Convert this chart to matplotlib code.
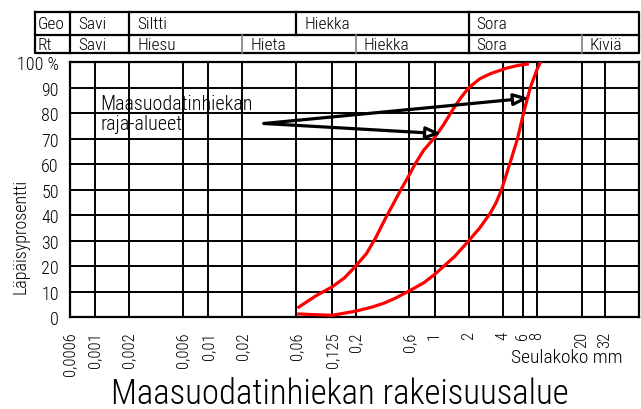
import matplotlib.pyplot as plt
import matplotlib.transforms as mtransforms

plt.rcParams['font.family'] = ['Roboto Condensed', 'DejaVu Sans']
plt.rcParams['font.weight'] = 'light'
plt.rcParams['axes.labelweight'] = 'light'

# seulakoot (mm) ja niiden nimet
sieve_sizes = [0.0006, 0.001, 0.002, 0.006, 0.01, 0.02, 0.06, 0.125, 0.2,
               0.6, 1, 2, 4, 6, 8, 20, 32]
sieve_labels = ['0,0006', '0,001', '0,002', '0,006', '0,01', '0,02', '0,06',
                '0,125', '0,2', '0,6', '1', '2', '4', '6', '8', '20', '32']
pass_ticks = [0, 10, 20, 30, 40, 50, 60, 70, 80, 90, 100]
pass_labels = ['0', '10', '20', '30', '40', '50', '60', '70', '80', '90', '100 %']

# raja-alueet (hieno ja karkea raja)
fine_x = [0.063, 0.09, 0.125, 0.16, 0.2, 0.25, 0.3, 0.37, 0.45, 0.51, 0.6,
          0.67, 0.8, 1.0, 1.2, 1.45, 1.7, 2.0, 2.5, 3.1, 4.3, 5.5, 6.6]
fine_y = [4, 8.5, 12, 15.5, 20, 25, 31, 39, 46, 50.5, 56,
          60, 65.5, 70.5, 75.5, 81.5, 86, 90, 93.5, 95.5, 97.7, 98.8, 99.3]
coarse_x = [0.063, 0.09, 0.125, 0.2, 0.28, 0.36, 0.45, 0.6, 0.8, 1.0, 1.5,
            2.0, 2.5, 3.1, 3.5, 3.9, 4.6, 5.4, 6.1, 7.0, 8.0, 8.6]
coarse_y = [1.3, 1.0, 0.8, 2.4, 4, 5.6, 7.5, 10.4, 13.5, 16.8, 23.8,
            30, 35, 40.8, 45, 50, 60, 70, 80, 90, 97, 100]

# otsikkotaulukko
geo_edges = [0.0006, 0.002, 0.06, 2]
geo_names = ['Savi', 'Siltti', 'Hiekka', 'Sora']
rt_edges = [0.0006, 0.002, 0.02, 0.2, 2, 20]
rt_names = ['Savi', 'Hiesu', 'Hieta', 'Hiekka', 'Sora', 'Kiviä']

# nuolet
arrow_tail = (0.031, 76)
arrow_heads_x = [6.85, 1.15]
arrow_heads_y = [86, 72]

fig = plt.figure(figsize=(6.41, 4.10), dpi=100)
ax = fig.add_axes([70 / 641, 91.7 / 410, 569 / 641, 255 / 410])
ax.set_xscale('log')
ax.set_xlim(0.0006, 64)
ax.set_ylim(0, 100)

ax.set_xticks(sieve_sizes)
ax.set_xticklabels(sieve_labels, rotation=90, va='top', ha='center')
ax.xaxis.set_minor_locator(plt.NullLocator())
ax.set_yticks(pass_ticks)
ax.set_yticklabels(pass_labels)
ax.tick_params(axis='both', length=0)
ax.tick_params(axis='x', pad=10, labelsize=12)
ax.tick_params(axis='y', pad=8, labelsize=13)
ax.grid(True, color='black', lw=1.4)
for s in ax.spines.values():
    s.set_linewidth(1.6)

ax.plot(fine_x, fine_y, color='red', lw=2.3, zorder=3)
ax.plot(coarse_x, coarse_y, color='red', lw=2.3, zorder=3)

ax.text(0.00112, 83.8, 'Maasuodatinhiekan', fontsize=14.5, va='center')
ax.text(0.00112, 75.9, 'raja-alueet', fontsize=14.5, va='center')
for hx, hy in zip(arrow_heads_x, arrow_heads_y):
    ax.annotate('', xy=(hx, hy), xytext=arrow_tail,
                arrowprops=dict(arrowstyle='-|>,head_length=0.9,head_width=0.35',
                                lw=2.3, ec='black', fc='white',
                                shrinkA=0, shrinkB=0), zorder=4)

ax.set_ylabel('Läpäisyprosentti', fontsize=13)
ax.yaxis.set_label_coords(-0.072, 0.32)

# taulukko ylös
trans = mtransforms.blended_transform_factory(ax.transData, ax.transAxes)
y_top, y_mid, y_bot = 1.196, 1.108, 1.035
x_left = -35 / 569
box = dict(color='black', lw=1.6, clip_on=False)
ax.plot([x_left, 1, 1, x_left, x_left], [y_top, y_top, y_bot, y_bot, y_top],
        transform=ax.transAxes, **box)
ax.plot([x_left, 1], [y_mid, y_mid], transform=ax.transAxes, **box)
for e in geo_edges:
    ax.plot([e, e], [y_mid, y_top], transform=trans, **box)
for e in rt_edges:
    inner = e in (0.02, 0.2, 20)
    ax.plot([e, e], [y_bot, y_mid], transform=trans, clip_on=False,
            color='gray' if inner else 'black', lw=1.2 if inner else 1.6)

off = mtransforms.ScaledTranslation(8 / 100, 0, fig.dpi_scale_trans)
ax.text(x_left + 0.004, (y_mid + y_top) / 2, 'Geo', transform=ax.transAxes,
        fontsize=12.5, va='center')
ax.text(x_left + 0.004, (y_bot + y_mid) / 2, 'Rt', transform=ax.transAxes,
        fontsize=12.5, va='center')
for e, n in zip(geo_edges, geo_names):
    ax.text(e, (y_mid + y_top) / 2, n, transform=trans + off, fontsize=12.5,
            va='center')
for e, n in zip(rt_edges, rt_names):
    ax.text(e, (y_bot + y_mid) / 2, n, transform=trans + off, fontsize=12.5,
            va='center')

fig.text(511 / 641, 1 - 358 / 410, 'Seulakoko mm', fontsize=14, va='center')
fig.text(340 / 641, 1 - 394 / 410, 'Maasuodatinhiekan rakeisuusalue',
         fontsize=25, ha='center', va='center')

plt.savefig('out.png', dpi=100)
